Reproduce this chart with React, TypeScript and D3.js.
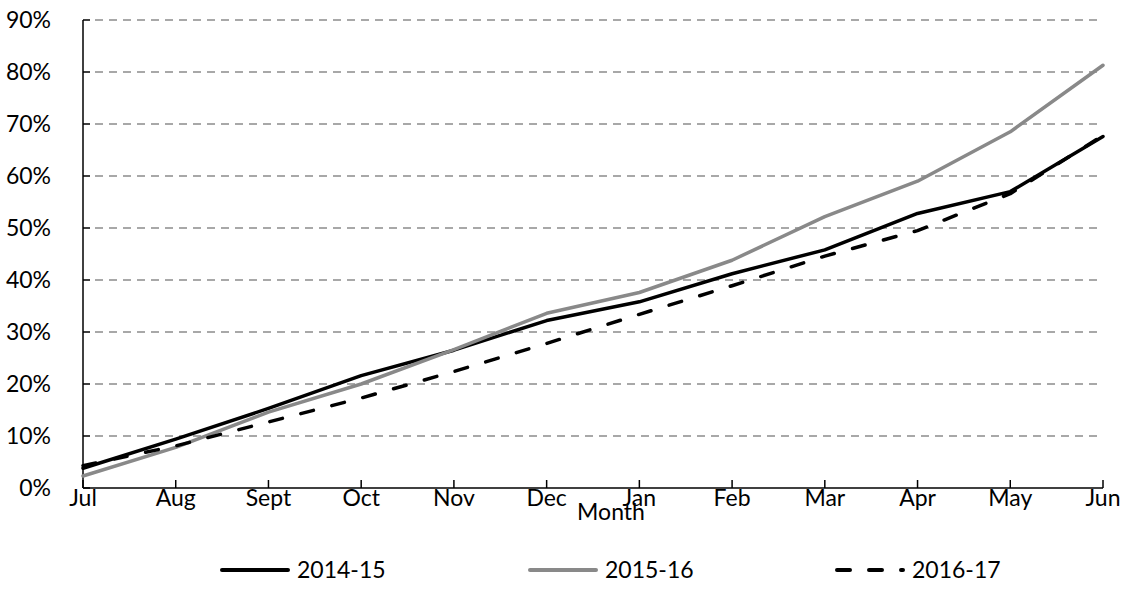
import React from "react";
import * as d3 from "d3";

const months = ["Jul", "Aug", "Sept", "Oct", "Nov", "Dec", "Jan", "Feb", "Mar", "Apr", "May", "Jun"];
const s2014_15 = [3.8, 9.4, 15.3, 21.6, 26.5, 32.2, 35.8, 41.2, 45.8, 52.8, 57.0, 67.6];
const s2015_16 = [2.3, 7.8, 14.6, 20.0, 26.6, 33.6, 37.6, 43.8, 52.2, 59.0, 68.5, 81.3];
const s2016_17 = [4.3, 8.1, 12.7, 17.3, 22.4, 27.8, 33.4, 38.9, 44.6, 49.5, 56.6, 67.8];
const yTicks = [0, 10, 20, 30, 40, 50, 60, 70, 80, 90];
const seriesNames = ["2014-15", "2015-16", "2016-17"];

const W = 1127;
const H = 605;
const FONT = "Lato, 'Open Sans', sans-serif";

export default function App() {
  const x = d3.scalePoint<string>().domain(months).range([83, 1103]);
  const y = d3.scaleLinear().domain([0, 90]).range([488, 20]);
  const line = d3
    .line<number>()
    .x((_, i) => x(months[i]) as number)
    .y((d) => y(d));

  const series = [
    { name: seriesNames[0], data: s2014_15, color: "#000", dash: undefined as string | undefined },
    { name: seriesNames[1], data: s2015_16, color: "#898989", dash: undefined as string | undefined },
    { name: seriesNames[2], data: s2016_17, color: "#000", dash: "13 19" },
  ];

  const legendX = [222, 530, 837];
  const legendY = 570;

  return (
    <svg
      width={W}
      height={H}
      style={{ position: "absolute", left: 0, top: 0, background: "#fff" }}
      fontFamily={FONT}
    >
      {/* gridlines */}
      {yTicks
        .filter((t) => t > 0)
        .map((t) => (
          <line
            key={"g" + t}
            x1={95}
            x2={1099}
            y1={y(t)}
            y2={y(t)}
            stroke="#8c8c8c"
            strokeWidth={1.5}
            strokeDasharray="8 6"
          />
        ))}
      {/* y axis */}
      <line x1={83} x2={83} y1={y(90)} y2={y(0)} stroke="#000" strokeWidth={1.5} />
      {yTicks.map((t) => (
        <g key={"yt" + t}>
          <line x1={83} x2={90} y1={y(t)} y2={y(t)} stroke="#000" strokeWidth={1.5} />
          <text x={51} y={y(t) + 8} textAnchor="end" fontSize={23} fill="#000">
            {t + "%"}
          </text>
        </g>
      ))}
      {/* x axis */}
      <line x1={83} x2={1103} y1={y(0)} y2={y(0)} stroke="#000" strokeWidth={1.5} />
      {months.map((m) => (
        <g key={"xt" + m}>
          <line
            x1={x(m) as number}
            x2={x(m) as number}
            y1={y(0)}
            y2={y(0) - 8}
            stroke="#000"
            strokeWidth={1.5}
          />
          <text x={x(m) as number} y={506} textAnchor="middle" fontSize={23} fill="#000">
            {m}
          </text>
        </g>
      ))}
      <text x={611} y={520} textAnchor="middle" fontSize={23} fill="#000">
        Month
      </text>
      {/* series */}
      {series.map((s) => (
        <path
          key={s.name}
          d={line(s.data) || ""}
          fill="none"
          stroke={s.color}
          strokeWidth={3.5}
          strokeDasharray={s.dash}
          strokeLinecap="round"
          strokeLinejoin="round"
        />
      ))}
      {/* legend */}
      {series.map((s, i) => (
        <g key={"lg" + s.name}>
          <line
            x1={legendX[i]}
            x2={legendX[i] + 66}
            y1={legendY}
            y2={legendY}
            stroke={s.color}
            strokeWidth={4}
            strokeLinecap="round"
            strokeDasharray={s.dash}
          />
          <text x={legendX[i] + 75} y={legendY + 8} fontSize={23} fill="#000">
            {s.name}
          </text>
        </g>
      ))}
    </svg>
  );
}
